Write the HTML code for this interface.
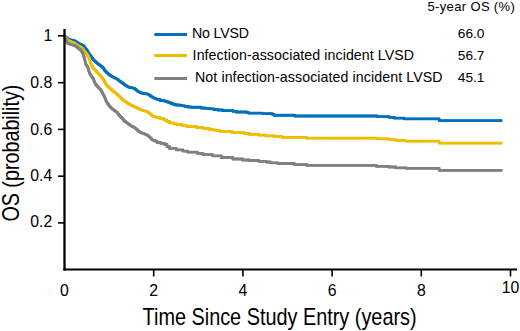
<!DOCTYPE html>
<html><head><meta charset="utf-8"><style>
html,body{margin:0;padding:0;background:#fff;}
svg{display:block;}
text{font-family:"Liberation Sans",sans-serif;fill:#000;}
.t{font-size:15.8px;}
.l{font-size:14.2px;}
.h{font-size:13px;}
.n{font-size:13.7px;}
.a{font-size:23.6px;}
.ay{font-size:23.6px;}
</style></head><body>
<svg width="520" height="331" viewBox="0 0 520 331">
<g><path d="M63.35,34.65 L65.65,34.65 L65.72,34.72 L65.83,34.81 L66.23,35.23 L67.13,36.15 L67.85,36.81 L68.31,37.16 L68.88,37.51 L69.53,37.89 L70.20,38.22 L70.93,38.51 L71.71,38.74 L72.50,38.91 L73.29,39.04 L74.07,39.10 L74.80,39.35 L75.55,39.70 L76.31,40.11 L76.97,40.44 L77.58,40.80 L78.34,41.29 L79.05,41.74 L79.63,42.08 L80.26,42.43 L80.93,42.81 L81.58,43.10 L82.22,43.41 L82.77,43.63 L83.23,43.79 L83.73,44.01 L84.33,44.36 L84.88,44.81 L85.34,45.34 L85.75,45.91 L86.14,46.47 L86.54,47.03 L86.93,47.55 L87.31,48.02 L87.68,48.49 L88.07,49.02 L88.45,49.57 L88.84,50.18 L89.20,50.86 L89.55,51.47 L89.88,51.97 L90.25,52.55 L90.66,53.13 L91.10,53.70 L91.56,54.29 L92.09,54.94 L92.56,55.59 L92.99,56.29 L93.38,56.97 L93.76,57.56 L94.35,58.24 L95.22,59.17 L95.81,59.81 L96.14,60.15 L96.51,60.43 L97.02,60.80 L97.57,61.24 L98.09,61.68 L98.63,62.15 L99.20,62.64 L99.74,63.08 L100.24,63.45 L100.77,63.84 L101.41,64.33 L102.02,64.79 L102.55,65.13 L103.02,65.43 L103.45,65.73 L103.88,66.09 L104.40,66.63 L104.92,67.37 L105.28,68.14 L105.65,68.86 L106.22,69.51 L106.87,70.11 L107.29,70.59 L107.51,70.94 L107.76,71.26 L108.35,71.79 L109.23,72.53 L109.80,73.00 L110.20,73.33 L110.77,73.76 L111.42,74.23 L111.96,74.58 L112.53,74.90 L113.17,75.27 L113.81,75.64 L114.43,75.97 L115.07,76.31 L115.72,76.65 L116.34,76.97 L116.96,77.28 L117.58,77.60 L118.22,77.95 L118.85,78.36 L119.46,78.82 L120.02,79.27 L120.60,79.69 L121.19,80.13 L121.79,80.56 L122.39,80.99 L122.99,81.44 L123.59,81.87 L124.19,82.29 L124.79,82.74 L125.39,83.17 L125.99,83.59 L126.59,84.01 L127.19,84.39 L127.79,84.77 L128.42,85.18 L129.07,85.56 L129.70,85.85 L130.31,86.09 L130.98,86.27 L131.73,86.39 L132.57,86.54 L133.47,86.73 L134.41,86.98 L135.34,87.28 L136.15,87.70 L136.78,88.13 L137.29,88.57 L137.82,89.09 L138.34,89.59 L138.77,89.94 L139.26,90.22 L139.93,90.54 L140.75,90.94 L141.55,91.33 L142.31,91.66 L143.09,91.96 L143.95,92.23 L144.78,92.38 L145.57,92.46 L146.34,92.51 L147.10,92.58 L147.88,92.72 L148.67,92.95 L149.40,93.25 L150.03,93.59 L150.71,94.03 L151.35,94.47 L151.91,94.86 L152.53,95.26 L153.18,95.64 L153.82,96.04 L154.50,96.41 L155.20,96.74 L155.89,97.03 L156.60,97.33 L157.29,97.65 L157.90,97.97 L158.44,98.30 L161.15,98.30 L161.15,99.45 L165.45,99.45 L165.45,99.95 L167.65,99.95 L167.65,100.65 L169.65,100.65 L169.65,101.35 L171.75,101.35 L171.75,102.15 L174.15,102.15 L174.15,103.15 L176.65,103.15 L176.65,103.85 L180.65,103.85 L180.65,104.25 L183.25,104.25 L183.25,104.65 L186.15,104.65 L186.15,105.25 L189.05,105.25 L189.05,105.85 L191.95,105.85 L191.95,106.10 L202.15,106.10 L202.15,106.85 L206.15,106.85 L206.15,107.25 L209.15,107.25 L209.15,107.55 L211.15,107.55 L211.15,107.65 L214.95,107.65 L214.95,108.35 L218.85,108.35 L218.85,108.85 L223.65,108.85 L223.65,109.55 L234.15,109.55 L234.15,110.25 L237.15,110.25 L237.15,110.85 L247.65,110.85 L247.65,111.35 L249.65,111.35 L249.65,111.90 L263.85,111.90 L263.85,112.55 L273.45,112.55 L273.45,113.15 L275.35,113.15 L275.35,114.10 L295.65,114.10 L295.65,114.85 L378.15,114.85 L378.15,115.50 L390.15,115.50 L390.15,116.15 L395.45,116.15 L395.45,116.90 L405.15,116.90 L405.15,117.65 L440.25,117.65 L440.25,119.40 L502.30,119.40 L502.30,121.70 L500.00,121.70 L437.95,121.70 L437.95,119.95 L402.85,119.95 L402.85,119.20 L393.15,119.20 L393.15,118.45 L387.85,118.45 L387.85,117.80 L375.85,117.80 L375.85,117.15 L293.35,117.15 L293.35,116.40 L273.05,116.40 L273.05,115.45 L271.15,115.45 L271.15,114.85 L261.55,114.85 L261.55,114.20 L247.35,114.20 L247.35,113.65 L245.35,113.65 L245.35,113.15 L234.85,113.15 L234.85,112.55 L231.85,112.55 L231.85,111.85 L221.35,111.85 L221.35,111.15 L216.55,111.15 L216.55,110.65 L212.65,110.65 L212.65,109.95 L208.85,109.95 L208.85,109.85 L206.85,109.85 L206.85,109.55 L203.85,109.55 L203.85,109.15 L199.85,109.15 L199.85,108.40 L189.65,108.40 L189.65,108.15 L186.75,108.15 L186.75,107.55 L183.85,107.55 L183.85,106.95 L180.95,106.95 L180.95,106.55 L178.35,106.55 L178.35,106.15 L174.35,106.15 L174.35,105.45 L171.85,105.45 L171.85,104.45 L169.45,104.45 L169.45,103.65 L167.35,103.65 L167.35,102.95 L165.35,102.95 L165.35,102.25 L163.15,102.25 L163.15,101.75 L158.85,101.75 L158.85,100.60 L156.14,100.60 L155.60,100.27 L154.99,99.95 L154.30,99.63 L153.59,99.33 L152.90,99.04 L152.20,98.71 L151.52,98.34 L150.88,97.94 L150.23,97.56 L149.61,97.16 L149.05,96.77 L148.41,96.33 L147.73,95.89 L147.10,95.55 L146.37,95.25 L145.58,95.02 L144.80,94.88 L144.04,94.81 L143.27,94.76 L142.48,94.68 L141.65,94.53 L140.79,94.26 L140.01,93.96 L139.25,93.63 L138.45,93.24 L137.63,92.84 L136.96,92.52 L136.47,92.24 L136.04,91.89 L135.52,91.39 L134.99,90.87 L134.48,90.43 L133.85,90.00 L133.04,89.58 L132.11,89.28 L131.17,89.03 L130.27,88.84 L129.43,88.69 L128.68,88.57 L128.01,88.39 L127.40,88.15 L126.77,87.86 L126.12,87.48 L125.49,87.07 L124.89,86.69 L124.29,86.31 L123.69,85.89 L123.09,85.47 L122.49,85.04 L121.89,84.59 L121.29,84.17 L120.69,83.74 L120.09,83.29 L119.49,82.86 L118.89,82.43 L118.30,81.99 L117.72,81.57 L117.16,81.12 L116.55,80.66 L115.92,80.25 L115.28,79.90 L114.66,79.58 L114.04,79.27 L113.42,78.95 L112.77,78.61 L112.13,78.27 L111.51,77.94 L110.87,77.57 L110.23,77.20 L109.66,76.88 L109.12,76.53 L108.47,76.06 L107.90,75.63 L107.50,75.30 L106.93,74.83 L106.05,74.09 L105.46,73.56 L105.21,73.24 L104.99,72.89 L104.57,72.41 L103.92,71.81 L103.35,71.16 L102.98,70.44 L102.62,69.67 L102.10,68.93 L101.58,68.39 L101.15,68.03 L100.72,67.73 L100.25,67.43 L99.72,67.09 L99.11,66.63 L98.47,66.14 L97.94,65.75 L97.44,65.38 L96.90,64.94 L96.33,64.45 L95.79,63.98 L95.27,63.54 L94.72,63.10 L94.21,62.73 L93.84,62.45 L93.51,62.11 L92.92,61.47 L92.05,60.54 L91.46,59.86 L91.08,59.27 L90.69,58.59 L90.26,57.89 L89.79,57.24 L89.26,56.59 L88.80,56.00 L88.36,55.43 L87.95,54.85 L87.58,54.27 L87.25,53.77 L86.90,53.16 L86.54,52.48 L86.15,51.87 L85.77,51.32 L85.38,50.79 L85.01,50.32 L84.63,49.85 L84.24,49.33 L83.84,48.77 L83.45,48.21 L83.04,47.64 L82.58,47.11 L82.03,46.66 L81.43,46.31 L80.93,46.09 L80.47,45.93 L79.92,45.71 L79.28,45.40 L78.63,45.11 L77.96,44.73 L77.33,44.38 L76.75,44.04 L76.04,43.59 L75.28,43.10 L74.67,42.74 L74.01,42.41 L73.25,42.00 L72.50,41.65 L71.77,41.40 L70.99,41.34 L70.20,41.21 L69.41,41.04 L68.63,40.81 L67.90,40.52 L67.23,40.19 L66.58,39.81 L66.01,39.46 L65.55,39.11 L64.83,38.45 L63.93,37.53 L63.53,37.11 L63.42,37.02 L63.35,36.95Z" fill="#0070be"/><path d="M64.50,35.80 L64.57,35.87 L64.68,35.96 L65.08,36.38 L65.98,37.30 L66.70,37.96 L67.16,38.31 L67.73,38.66 L68.38,39.04 L69.05,39.37 L69.78,39.66 L70.56,39.89 L71.35,40.06 L72.14,40.19 L72.92,40.25 L73.65,40.50 L74.40,40.85 L75.16,41.26 L75.82,41.59 L76.43,41.95 L77.19,42.44 L77.90,42.89 L78.48,43.23 L79.11,43.58 L79.78,43.96 L80.43,44.25 L81.07,44.56 L81.62,44.78 L82.08,44.94 L82.58,45.16 L83.18,45.51 L83.73,45.96 L84.19,46.49 L84.60,47.06 L84.99,47.62 L85.39,48.18 L85.78,48.70 L86.16,49.17 L86.53,49.64 L86.92,50.17 L87.30,50.72 L87.69,51.33 L88.05,52.01 L88.40,52.62 L88.73,53.12 L89.10,53.70 L89.51,54.28 L89.95,54.85 L90.41,55.44 L90.94,56.09 L91.41,56.74 L91.84,57.44 L92.23,58.12 L92.61,58.71 L93.20,59.39 L94.07,60.32 L94.66,60.96 L94.99,61.30 L95.36,61.58 L95.87,61.95 L96.42,62.39 L96.94,62.83 L97.48,63.30 L98.05,63.79 L98.59,64.23 L99.09,64.60 L99.62,64.99 L100.26,65.48 L100.87,65.94 L101.40,66.28 L101.87,66.58 L102.30,66.88 L102.73,67.24 L103.25,67.78 L103.77,68.52 L104.13,69.29 L104.50,70.01 L105.07,70.66 L105.72,71.26 L106.14,71.74 L106.36,72.09 L106.61,72.41 L107.20,72.94 L108.08,73.68 L108.65,74.15 L109.05,74.48 L109.62,74.91 L110.27,75.38 L110.81,75.73 L111.38,76.05 L112.02,76.42 L112.66,76.79 L113.28,77.12 L113.92,77.46 L114.57,77.80 L115.19,78.12 L115.81,78.43 L116.43,78.75 L117.07,79.10 L117.70,79.51 L118.31,79.97 L118.87,80.42 L119.45,80.84 L120.04,81.28 L120.64,81.71 L121.24,82.14 L121.84,82.59 L122.44,83.02 L123.04,83.44 L123.64,83.89 L124.24,84.32 L124.84,84.74 L125.44,85.16 L126.04,85.54 L126.64,85.92 L127.27,86.33 L127.92,86.71 L128.55,87.00 L129.16,87.24 L129.83,87.42 L130.58,87.54 L131.42,87.69 L132.32,87.88 L133.26,88.13 L134.19,88.43 L135.00,88.85 L135.63,89.28 L136.14,89.72 L136.67,90.24 L137.19,90.74 L137.62,91.09 L138.11,91.37 L138.78,91.69 L139.60,92.09 L140.40,92.48 L141.16,92.81 L141.94,93.11 L142.80,93.38 L143.63,93.53 L144.42,93.61 L145.19,93.66 L145.95,93.73 L146.73,93.87 L147.52,94.10 L148.25,94.40 L148.88,94.74 L149.56,95.18 L150.20,95.62 L150.76,96.01 L151.38,96.41 L152.03,96.79 L152.67,97.19 L153.35,97.56 L154.05,97.89 L154.74,98.18 L155.45,98.48 L156.14,98.80 L156.75,99.12 L157.29,99.45 L160.00,99.45 L160.00,100.60 L164.30,100.60 L164.30,101.10 L166.50,101.10 L166.50,101.80 L168.50,101.80 L168.50,102.50 L170.60,102.50 L170.60,103.30 L173.00,103.30 L173.00,104.30 L175.50,104.30 L175.50,105.00 L179.50,105.00 L179.50,105.40 L182.10,105.40 L182.10,105.80 L185.00,105.80 L185.00,106.40 L187.90,106.40 L187.90,107.00 L190.80,107.00 L190.80,107.25 L201.00,107.25 L201.00,108.00 L205.00,108.00 L205.00,108.40 L208.00,108.40 L208.00,108.70 L210.00,108.70 L210.00,108.80 L213.80,108.80 L213.80,109.50 L217.70,109.50 L217.70,110.00 L222.50,110.00 L222.50,110.70 L233.00,110.70 L233.00,111.40 L236.00,111.40 L236.00,112.00 L246.50,112.00 L246.50,112.50 L248.50,112.50 L248.50,113.05 L262.70,113.05 L262.70,113.70 L272.30,113.70 L272.30,114.30 L274.20,114.30 L274.20,115.25 L294.50,115.25 L294.50,116.00 L377.00,116.00 L377.00,116.65 L389.00,116.65 L389.00,117.30 L394.30,117.30 L394.30,118.05 L404.00,118.05 L404.00,118.80 L439.10,118.80 L439.10,120.55 L502.30,120.55" fill="none" stroke="#0070be" stroke-width="2.8" stroke-linejoin="round" stroke-linecap="butt"/></g>
<g><path d="M63.35,34.65 L65.65,34.65 L65.70,34.70 L65.72,34.73 L65.85,34.93 L66.44,36.07 L67.34,37.73 L67.70,38.25 L67.98,38.47 L68.47,38.81 L69.09,39.23 L69.74,39.61 L70.46,39.95 L71.21,40.23 L71.94,40.48 L72.65,40.71 L73.38,40.96 L74.12,41.19 L74.78,41.53 L75.40,41.93 L76.09,42.40 L76.68,42.79 L77.22,43.17 L77.94,43.68 L78.64,44.16 L79.21,44.52 L79.85,44.89 L80.55,45.34 L81.16,45.70 L81.72,46.01 L82.25,46.32 L82.71,46.63 L83.14,46.99 L83.63,47.50 L84.15,48.13 L84.54,48.68 L84.90,49.24 L85.33,49.91 L85.70,50.42 L86.06,50.82 L86.49,51.25 L86.87,51.65 L87.21,52.05 L87.67,52.67 L88.14,53.32 L88.44,53.73 L88.76,54.18 L89.23,54.83 L89.58,55.32 L89.72,55.51 L89.77,55.59 L89.92,56.00 L90.81,58.73 L91.48,60.88 L91.56,61.18 L91.63,61.33 L91.84,61.80 L92.28,62.81 L92.67,63.71 L92.87,64.16 L93.10,64.58 L93.46,65.20 L93.86,65.91 L94.21,66.52 L94.68,67.10 L95.25,67.71 L95.74,68.25 L96.17,68.73 L96.69,69.21 L97.20,69.71 L97.62,70.21 L98.09,70.76 L98.66,71.34 L99.13,71.83 L99.49,72.25 L99.99,72.80 L100.61,73.46 L101.09,73.99 L101.46,74.42 L101.95,74.91 L102.53,75.50 L102.98,76.06 L103.39,76.65 L103.88,77.27 L104.30,77.83 L104.61,78.35 L104.96,79.02 L105.35,79.71 L105.67,80.23 L106.02,80.84 L106.49,81.75 L106.89,82.49 L107.21,82.99 L107.57,83.49 L107.96,83.96 L108.38,84.42 L108.98,85.06 L109.61,85.71 L110.04,86.13 L110.50,86.54 L111.13,87.13 L111.66,87.62 L112.09,87.99 L112.67,88.50 L113.30,89.07 L113.79,89.48 L114.31,89.87 L114.93,90.33 L115.45,90.73 L115.95,91.13 L116.64,91.65 L117.25,92.13 L117.69,92.51 L118.27,93.06 L118.98,93.73 L119.48,94.24 L119.85,94.65 L120.24,95.01 L120.71,95.34 L121.29,95.77 L121.95,96.39 L122.51,97.00 L122.92,97.48 L123.33,97.91 L123.88,98.36 L124.54,98.85 L125.10,99.34 L125.55,99.74 L126.02,100.04 L126.64,100.37 L127.38,100.81 L128.03,101.26 L128.59,101.66 L129.19,102.13 L129.84,102.59 L130.47,102.96 L131.09,103.27 L131.73,103.59 L132.38,103.92 L133.05,104.25 L133.72,104.58 L134.39,104.92 L135.07,105.25 L135.76,105.57 L136.45,105.86 L137.11,106.16 L137.77,106.48 L138.45,106.84 L139.11,107.19 L139.75,107.50 L140.44,107.85 L141.18,108.22 L141.90,108.53 L142.58,108.79 L143.33,109.06 L144.11,109.31 L144.87,109.51 L145.61,109.67 L146.32,109.84 L147.05,110.07 L147.81,110.37 L148.51,110.67 L149.10,110.95 L149.74,111.37 L150.42,111.89 L150.94,112.33 L151.42,112.76 L152.05,113.31 L152.64,113.82 L153.16,114.23 L153.81,114.65 L154.56,115.06 L155.24,115.35 L155.89,115.54 L156.58,115.70 L157.30,115.87 L158.06,116.09 L158.86,116.34 L161.15,116.34 L161.15,117.50 L164.95,117.50 L164.95,118.65 L167.85,118.65 L167.85,120.15 L170.75,120.15 L170.75,121.75 L174.65,121.75 L174.65,122.65 L178.45,122.65 L178.45,123.45 L183.25,123.45 L183.25,124.25 L188.05,124.25 L188.05,125.35 L197.65,125.35 L197.65,126.35 L204.45,126.35 L204.45,127.35 L210.15,127.35 L210.15,128.10 L212.95,128.10 L212.95,128.75 L216.85,128.75 L216.85,129.35 L220.65,129.35 L220.65,130.15 L233.15,130.15 L233.15,131.45 L245.65,131.45 L245.65,132.35 L250.45,132.35 L250.45,133.25 L259.95,133.25 L259.95,134.05 L266.75,134.05 L266.75,134.70 L275.35,134.70 L275.35,135.25 L283.05,135.25 L283.05,136.15 L307.45,136.15 L307.45,137.05 L377.45,137.05 L377.45,137.75 L389.95,137.75 L389.95,138.45 L396.75,138.45 L396.75,139.15 L406.35,139.15 L406.35,139.95 L440.25,139.95 L440.25,142.05 L502.30,142.05 L502.30,144.35 L500.00,144.35 L437.95,144.35 L437.95,142.25 L404.05,142.25 L404.05,141.45 L394.45,141.45 L394.45,140.75 L387.65,140.75 L387.65,140.05 L375.15,140.05 L375.15,139.35 L305.15,139.35 L305.15,138.45 L280.75,138.45 L280.75,137.55 L273.05,137.55 L273.05,137.00 L264.45,137.00 L264.45,136.35 L257.65,136.35 L257.65,135.55 L248.15,135.55 L248.15,134.65 L243.35,134.65 L243.35,133.75 L230.85,133.75 L230.85,132.45 L218.35,132.45 L218.35,131.65 L214.55,131.65 L214.55,131.05 L210.65,131.05 L210.65,130.40 L207.85,130.40 L207.85,129.65 L202.15,129.65 L202.15,128.65 L195.35,128.65 L195.35,127.65 L185.75,127.65 L185.75,126.55 L180.95,126.55 L180.95,125.75 L176.15,125.75 L176.15,124.95 L172.35,124.95 L172.35,124.05 L168.45,124.05 L168.45,122.45 L165.55,122.45 L165.55,120.95 L162.65,120.95 L162.65,119.80 L158.85,119.80 L158.85,118.64 L156.56,118.64 L155.76,118.39 L155.00,118.17 L154.28,118.00 L153.59,117.84 L152.94,117.65 L152.26,117.36 L151.51,116.95 L150.86,116.53 L150.34,116.12 L149.75,115.61 L149.12,115.06 L148.64,114.63 L148.12,114.19 L147.44,113.67 L146.80,113.25 L146.21,112.97 L145.51,112.67 L144.75,112.37 L144.02,112.14 L143.31,111.97 L142.57,111.81 L141.81,111.61 L141.03,111.36 L140.28,111.09 L139.60,110.83 L138.88,110.52 L138.14,110.15 L137.45,109.80 L136.81,109.49 L136.15,109.14 L135.47,108.78 L134.81,108.46 L134.15,108.16 L133.46,107.87 L132.77,107.55 L132.09,107.22 L131.42,106.88 L130.75,106.55 L130.08,106.22 L129.43,105.89 L128.79,105.57 L128.17,105.26 L127.54,104.89 L126.89,104.43 L126.29,103.96 L125.73,103.56 L125.08,103.11 L124.34,102.67 L123.72,102.34 L123.25,102.04 L122.80,101.64 L122.24,101.15 L121.58,100.66 L121.03,100.21 L120.62,99.78 L120.21,99.30 L119.65,98.69 L118.99,98.07 L118.41,97.64 L117.94,97.31 L117.55,96.95 L117.18,96.54 L116.68,96.03 L115.97,95.36 L115.39,94.81 L114.95,94.43 L114.34,93.95 L113.65,93.43 L113.15,93.03 L112.63,92.63 L112.01,92.17 L111.49,91.78 L111.00,91.37 L110.37,90.80 L109.79,90.29 L109.36,89.92 L108.83,89.43 L108.20,88.84 L107.74,88.43 L107.31,88.01 L106.68,87.36 L106.08,86.72 L105.66,86.26 L105.27,85.79 L104.91,85.29 L104.59,84.79 L104.19,84.05 L103.72,83.14 L103.37,82.53 L103.05,82.01 L102.66,81.32 L102.31,80.65 L102.00,80.13 L101.58,79.57 L101.09,78.95 L100.68,78.36 L100.23,77.80 L99.65,77.21 L99.16,76.72 L98.79,76.29 L98.31,75.76 L97.69,75.10 L97.19,74.55 L96.83,74.13 L96.36,73.64 L95.79,73.06 L95.32,72.51 L94.90,72.01 L94.39,71.51 L93.87,71.03 L93.44,70.55 L92.95,70.01 L92.38,69.40 L91.91,68.82 L91.56,68.21 L91.16,67.50 L90.80,66.88 L90.57,66.46 L90.37,66.01 L89.98,65.11 L89.54,64.10 L89.33,63.63 L89.26,63.48 L89.18,63.18 L88.51,61.03 L87.62,58.30 L87.47,57.89 L87.42,57.81 L87.28,57.62 L86.93,57.13 L86.46,56.48 L86.14,56.03 L85.84,55.62 L85.37,54.97 L84.91,54.35 L84.57,53.95 L84.19,53.55 L83.76,53.12 L83.40,52.72 L83.03,52.21 L82.60,51.54 L82.24,50.98 L81.85,50.43 L81.33,49.80 L80.84,49.29 L80.41,48.93 L79.95,48.62 L79.42,48.31 L78.86,48.00 L78.25,47.64 L77.55,47.19 L76.91,46.82 L76.34,46.46 L75.64,45.98 L74.92,45.47 L74.38,45.09 L73.79,44.70 L73.10,44.23 L72.48,43.83 L71.82,43.49 L71.08,43.26 L70.35,43.01 L69.64,42.78 L68.91,42.53 L68.16,42.25 L67.44,41.91 L66.79,41.53 L66.17,41.11 L65.68,40.77 L65.40,40.55 L65.04,40.03 L64.14,38.37 L63.55,37.23 L63.42,37.03 L63.40,37.00 L63.35,36.95Z" fill="#f0bc00"/><path d="M64.50,35.80 L64.55,35.85 L64.57,35.88 L64.70,36.08 L65.29,37.22 L66.19,38.88 L66.55,39.40 L66.83,39.62 L67.32,39.96 L67.94,40.38 L68.59,40.76 L69.31,41.10 L70.06,41.38 L70.79,41.63 L71.50,41.86 L72.23,42.11 L72.97,42.34 L73.63,42.68 L74.25,43.08 L74.94,43.55 L75.53,43.94 L76.07,44.32 L76.79,44.83 L77.49,45.31 L78.06,45.67 L78.70,46.04 L79.40,46.49 L80.01,46.85 L80.57,47.16 L81.10,47.47 L81.56,47.78 L81.99,48.14 L82.48,48.65 L83.00,49.28 L83.39,49.83 L83.75,50.39 L84.18,51.06 L84.55,51.57 L84.91,51.97 L85.34,52.40 L85.72,52.80 L86.06,53.20 L86.52,53.82 L86.99,54.47 L87.29,54.88 L87.61,55.33 L88.08,55.98 L88.43,56.47 L88.57,56.66 L88.62,56.74 L88.77,57.15 L89.66,59.88 L90.33,62.03 L90.41,62.33 L90.48,62.48 L90.69,62.95 L91.13,63.96 L91.52,64.86 L91.72,65.31 L91.95,65.73 L92.31,66.35 L92.71,67.06 L93.06,67.67 L93.53,68.25 L94.10,68.86 L94.59,69.40 L95.02,69.88 L95.54,70.36 L96.05,70.86 L96.47,71.36 L96.94,71.91 L97.51,72.49 L97.98,72.98 L98.34,73.40 L98.84,73.95 L99.46,74.61 L99.94,75.14 L100.31,75.57 L100.80,76.06 L101.38,76.65 L101.83,77.21 L102.24,77.80 L102.73,78.42 L103.15,78.98 L103.46,79.50 L103.81,80.17 L104.20,80.86 L104.52,81.38 L104.87,81.99 L105.34,82.90 L105.74,83.64 L106.06,84.14 L106.42,84.64 L106.81,85.11 L107.23,85.57 L107.83,86.21 L108.46,86.86 L108.89,87.28 L109.35,87.69 L109.98,88.28 L110.51,88.77 L110.94,89.14 L111.52,89.65 L112.15,90.22 L112.64,90.63 L113.16,91.02 L113.78,91.48 L114.30,91.88 L114.80,92.28 L115.49,92.80 L116.10,93.28 L116.54,93.66 L117.12,94.21 L117.83,94.88 L118.33,95.39 L118.70,95.80 L119.09,96.16 L119.56,96.49 L120.14,96.92 L120.80,97.54 L121.36,98.15 L121.77,98.63 L122.18,99.06 L122.73,99.51 L123.39,100.00 L123.95,100.49 L124.40,100.89 L124.87,101.19 L125.49,101.52 L126.23,101.96 L126.88,102.41 L127.44,102.81 L128.04,103.28 L128.69,103.74 L129.32,104.11 L129.94,104.42 L130.58,104.74 L131.23,105.07 L131.90,105.40 L132.57,105.73 L133.24,106.07 L133.92,106.40 L134.61,106.72 L135.30,107.01 L135.96,107.31 L136.62,107.63 L137.30,107.99 L137.96,108.34 L138.60,108.65 L139.29,109.00 L140.03,109.37 L140.75,109.68 L141.43,109.94 L142.18,110.21 L142.96,110.46 L143.72,110.66 L144.46,110.82 L145.17,110.99 L145.90,111.22 L146.66,111.52 L147.36,111.82 L147.95,112.10 L148.59,112.52 L149.27,113.04 L149.79,113.48 L150.27,113.91 L150.90,114.46 L151.49,114.97 L152.01,115.38 L152.66,115.80 L153.41,116.21 L154.09,116.50 L154.74,116.69 L155.43,116.85 L156.15,117.02 L156.91,117.24 L157.71,117.49 L160.00,117.49 L160.00,118.65 L163.80,118.65 L163.80,119.80 L166.70,119.80 L166.70,121.30 L169.60,121.30 L169.60,122.90 L173.50,122.90 L173.50,123.80 L177.30,123.80 L177.30,124.60 L182.10,124.60 L182.10,125.40 L186.90,125.40 L186.90,126.50 L196.50,126.50 L196.50,127.50 L203.30,127.50 L203.30,128.50 L209.00,128.50 L209.00,129.25 L211.80,129.25 L211.80,129.90 L215.70,129.90 L215.70,130.50 L219.50,130.50 L219.50,131.30 L232.00,131.30 L232.00,132.60 L244.50,132.60 L244.50,133.50 L249.30,133.50 L249.30,134.40 L258.80,134.40 L258.80,135.20 L265.60,135.20 L265.60,135.85 L274.20,135.85 L274.20,136.40 L281.90,136.40 L281.90,137.30 L306.30,137.30 L306.30,138.20 L376.30,138.20 L376.30,138.90 L388.80,138.90 L388.80,139.60 L395.60,139.60 L395.60,140.30 L405.20,140.30 L405.20,141.10 L439.10,141.10 L439.10,143.20 L502.30,143.20" fill="none" stroke="#f0bc00" stroke-width="2.8" stroke-linejoin="round" stroke-linecap="butt"/></g>
<g><path d="M63.35,34.65 L65.65,34.65 L65.70,34.70 L65.70,34.70 L65.72,34.73 L65.87,35.10 L66.80,37.72 L67.52,39.76 L67.63,40.14 L67.71,40.47 L67.88,40.89 L68.16,41.29 L68.58,41.67 L69.18,42.12 L69.91,42.59 L70.66,42.88 L71.38,43.07 L72.12,43.29 L72.89,43.53 L73.69,43.75 L74.45,43.93 L75.18,44.16 L75.93,44.45 L76.60,44.84 L77.20,45.28 L77.91,45.80 L78.60,46.32 L79.15,46.74 L79.76,47.19 L80.38,47.69 L80.85,48.11 L81.32,48.49 L81.95,49.10 L82.42,49.64 L82.63,49.98 L82.87,50.40 L83.45,51.26 L84.09,52.25 L84.31,52.86 L84.34,53.31 L84.42,53.87 L84.72,54.78 L85.16,55.75 L85.39,56.18 L85.47,56.31 L85.50,56.38 L85.66,57.15 L86.47,61.03 L86.79,62.55 L86.82,62.69 L86.83,62.74 L86.88,62.85 L87.06,63.17 L87.57,63.96 L88.14,64.80 L88.44,65.19 L88.63,65.48 L88.93,66.19 L89.29,67.38 L89.49,68.15 L89.60,68.51 L89.79,69.09 L90.17,70.23 L90.47,71.15 L90.64,71.60 L90.91,72.17 L91.36,73.03 L91.73,73.73 L92.05,74.23 L92.43,74.80 L92.82,75.35 L93.16,75.82 L93.60,76.43 L94.12,77.14 L94.49,77.66 L94.75,78.18 L95.08,79.18 L95.44,80.34 L95.67,80.96 L95.90,81.33 L96.23,81.82 L96.61,82.49 L96.96,83.20 L97.41,83.87 L97.98,84.48 L98.45,84.96 L98.82,85.38 L99.30,85.84 L99.89,86.41 L100.39,87.02 L100.77,87.57 L101.20,88.03 L101.73,88.52 L102.24,89.18 L102.63,89.89 L102.93,90.43 L103.24,90.97 L103.63,91.73 L104.00,92.42 L104.32,92.96 L104.72,93.63 L105.11,94.42 L105.36,95.03 L105.55,95.55 L105.82,96.14 L106.19,96.81 L106.54,97.54 L106.80,98.37 L107.06,99.24 L107.42,100.07 L107.79,100.75 L108.03,101.25 L108.28,101.70 L108.78,102.35 L109.45,103.15 L109.89,103.71 L110.20,104.13 L110.62,104.66 L111.10,105.29 L111.45,105.83 L111.82,106.29 L112.42,106.75 L113.06,107.24 L113.54,107.73 L114.01,108.19 L114.68,108.61 L115.39,109.03 L115.92,109.50 L116.48,110.01 L117.21,110.49 L117.84,110.84 L118.19,111.10 L118.41,111.41 L118.81,111.98 L119.44,112.84 L119.93,113.54 L120.28,114.03 L120.75,114.54 L121.33,115.10 L121.82,115.57 L122.26,115.99 L122.79,116.45 L123.30,116.95 L123.71,117.46 L124.19,118.06 L124.76,118.75 L125.23,119.33 L125.64,119.77 L126.15,120.17 L126.69,120.57 L127.23,120.99 L127.85,121.44 L128.47,121.87 L129.00,122.28 L129.58,122.72 L130.19,123.16 L130.72,123.55 L131.29,123.98 L131.92,124.42 L132.45,124.75 L133.02,125.04 L133.80,125.39 L134.54,125.75 L135.12,126.09 L135.77,126.54 L136.48,127.05 L136.98,127.44 L137.40,127.81 L137.97,128.30 L138.55,128.84 L139.02,129.29 L139.56,129.76 L140.20,130.27 L140.80,130.69 L141.40,131.04 L142.07,131.35 L142.76,131.64 L143.46,131.89 L144.18,132.14 L144.90,132.39 L145.61,132.65 L146.31,132.92 L146.99,133.21 L147.61,133.50 L148.24,133.86 L148.92,134.32 L149.50,134.74 L149.96,135.11 L150.54,135.64 L151.16,136.25 L151.57,136.71 L151.99,137.15 L152.60,137.75 L153.19,138.34 L153.62,138.73 L154.09,138.99 L154.75,139.22 L156.15,139.22 L156.15,139.95 L158.15,139.95 L158.15,141.35 L161.95,141.35 L161.95,142.25 L165.75,142.25 L165.75,143.35 L168.15,143.35 L168.15,145.35 L170.55,145.35 L170.55,147.25 L177.35,147.25 L177.35,148.75 L184.05,148.75 L184.05,149.95 L188.85,149.95 L188.85,151.05 L198.45,151.05 L198.45,152.25 L204.15,152.25 L204.15,153.45 L213.75,153.45 L213.75,154.75 L222.45,154.75 L222.45,156.35 L233.95,156.35 L233.95,157.85 L243.55,157.85 L243.55,158.85 L250.35,158.85 L250.35,159.35 L259.85,159.35 L259.85,160.15 L267.45,160.15 L267.45,160.85 L271.35,160.85 L271.35,161.65 L279.05,161.65 L279.05,162.35 L295.35,162.35 L295.35,163.40 L307.85,163.40 L307.85,164.20 L377.45,164.20 L377.45,165.15 L389.95,165.15 L389.95,165.85 L396.75,165.85 L396.75,166.65 L407.35,166.65 L407.35,167.20 L440.25,167.20 L440.25,169.20 L502.30,169.20 L502.30,171.50 L500.00,171.50 L437.95,171.50 L437.95,169.50 L405.05,169.50 L405.05,168.95 L394.45,168.95 L394.45,168.15 L387.65,168.15 L387.65,167.45 L375.15,167.45 L375.15,166.50 L305.55,166.50 L305.55,165.70 L293.05,165.70 L293.05,164.65 L276.75,164.65 L276.75,163.95 L269.05,163.95 L269.05,163.15 L265.15,163.15 L265.15,162.45 L257.55,162.45 L257.55,161.65 L248.05,161.65 L248.05,161.15 L241.25,161.15 L241.25,160.15 L231.65,160.15 L231.65,158.65 L220.15,158.65 L220.15,157.05 L211.45,157.05 L211.45,155.75 L201.85,155.75 L201.85,154.55 L196.15,154.55 L196.15,153.35 L186.55,153.35 L186.55,152.25 L181.75,152.25 L181.75,151.05 L175.05,151.05 L175.05,149.55 L168.25,149.55 L168.25,147.65 L165.85,147.65 L165.85,145.65 L163.45,145.65 L163.45,144.55 L159.65,144.55 L159.65,143.65 L155.85,143.65 L155.85,142.25 L153.85,142.25 L153.85,141.52 L152.45,141.52 L151.79,141.29 L151.32,141.03 L150.89,140.64 L150.30,140.05 L149.69,139.45 L149.27,139.01 L148.86,138.55 L148.24,137.94 L147.66,137.41 L147.20,137.04 L146.62,136.62 L145.94,136.16 L145.31,135.80 L144.69,135.51 L144.01,135.22 L143.31,134.95 L142.60,134.69 L141.88,134.44 L141.16,134.19 L140.46,133.94 L139.77,133.65 L139.10,133.34 L138.50,132.99 L137.90,132.57 L137.26,132.06 L136.72,131.59 L136.25,131.14 L135.67,130.60 L135.10,130.11 L134.68,129.74 L134.18,129.35 L133.47,128.84 L132.82,128.39 L132.24,128.05 L131.50,127.69 L130.72,127.34 L130.15,127.05 L129.62,126.72 L128.99,126.28 L128.42,125.85 L127.89,125.46 L127.28,125.02 L126.70,124.58 L126.17,124.17 L125.55,123.74 L124.93,123.29 L124.39,122.87 L123.85,122.47 L123.34,122.07 L122.93,121.63 L122.46,121.05 L121.89,120.36 L121.41,119.76 L121.00,119.25 L120.49,118.75 L119.96,118.29 L119.52,117.87 L119.03,117.40 L118.45,116.84 L117.98,116.33 L117.63,115.84 L117.14,115.14 L116.51,114.28 L116.11,113.71 L115.89,113.40 L115.54,113.14 L114.91,112.79 L114.18,112.31 L113.62,111.80 L113.09,111.33 L112.38,110.91 L111.71,110.49 L111.24,110.03 L110.76,109.54 L110.12,109.05 L109.52,108.59 L109.15,108.13 L108.80,107.59 L108.32,106.96 L107.90,106.43 L107.59,106.01 L107.15,105.45 L106.48,104.65 L105.98,104.00 L105.73,103.55 L105.49,103.05 L105.12,102.37 L104.76,101.54 L104.50,100.67 L104.24,99.84 L103.89,99.11 L103.52,98.44 L103.25,97.85 L103.06,97.33 L102.81,96.72 L102.42,95.93 L102.02,95.26 L101.70,94.72 L101.33,94.03 L100.94,93.27 L100.63,92.73 L100.33,92.19 L99.94,91.48 L99.43,90.82 L98.90,90.33 L98.47,89.87 L98.09,89.32 L97.59,88.71 L97.00,88.14 L96.52,87.68 L96.15,87.26 L95.68,86.78 L95.11,86.17 L94.66,85.50 L94.31,84.79 L93.93,84.12 L93.60,83.63 L93.37,83.26 L93.14,82.64 L92.78,81.48 L92.45,80.48 L92.19,79.96 L91.82,79.44 L91.30,78.73 L90.86,78.12 L90.52,77.65 L90.13,77.10 L89.75,76.53 L89.43,76.03 L89.06,75.33 L88.61,74.47 L88.34,73.90 L88.17,73.45 L87.87,72.53 L87.49,71.39 L87.30,70.81 L87.19,70.45 L86.99,69.68 L86.63,68.49 L86.33,67.78 L86.14,67.49 L85.84,67.10 L85.27,66.26 L84.76,65.47 L84.58,65.15 L84.53,65.04 L84.52,64.99 L84.49,64.85 L84.17,63.33 L83.36,59.45 L83.20,58.68 L83.17,58.61 L83.09,58.48 L82.86,58.05 L82.42,57.08 L82.12,56.17 L82.04,55.61 L82.01,55.16 L81.79,54.55 L81.15,53.56 L80.57,52.70 L80.33,52.28 L80.12,51.94 L79.65,51.40 L79.02,50.79 L78.55,50.41 L78.08,49.99 L77.46,49.49 L76.85,49.04 L76.30,48.62 L75.61,48.10 L74.90,47.58 L74.30,47.14 L73.63,46.75 L72.88,46.46 L72.15,46.23 L71.39,46.05 L70.59,45.83 L69.82,45.59 L69.08,45.37 L68.36,45.18 L67.61,44.89 L66.88,44.42 L66.28,43.97 L65.86,43.59 L65.58,43.19 L65.41,42.77 L65.33,42.44 L65.22,42.06 L64.50,40.02 L63.57,37.40 L63.42,37.03 L63.40,37.00 L63.40,37.00 L63.35,36.95Z" fill="#808080"/><path d="M64.50,35.80 L64.55,35.85 L64.55,35.85 L64.57,35.88 L64.72,36.25 L65.65,38.87 L66.37,40.91 L66.48,41.29 L66.56,41.62 L66.73,42.04 L67.01,42.44 L67.43,42.82 L68.03,43.27 L68.76,43.74 L69.51,44.03 L70.23,44.22 L70.97,44.44 L71.74,44.68 L72.54,44.90 L73.30,45.08 L74.03,45.31 L74.78,45.60 L75.45,45.99 L76.05,46.43 L76.76,46.95 L77.45,47.47 L78.00,47.89 L78.61,48.34 L79.23,48.84 L79.70,49.26 L80.17,49.64 L80.80,50.25 L81.27,50.79 L81.48,51.13 L81.72,51.55 L82.30,52.41 L82.94,53.40 L83.16,54.01 L83.19,54.46 L83.27,55.02 L83.57,55.93 L84.01,56.90 L84.24,57.33 L84.32,57.46 L84.35,57.53 L84.51,58.30 L85.32,62.18 L85.64,63.70 L85.67,63.84 L85.68,63.89 L85.73,64.00 L85.91,64.32 L86.42,65.11 L86.99,65.95 L87.29,66.34 L87.48,66.63 L87.78,67.34 L88.14,68.53 L88.34,69.30 L88.45,69.66 L88.64,70.24 L89.02,71.38 L89.32,72.30 L89.49,72.75 L89.76,73.32 L90.21,74.18 L90.58,74.88 L90.90,75.38 L91.28,75.95 L91.67,76.50 L92.01,76.97 L92.45,77.58 L92.97,78.29 L93.34,78.81 L93.60,79.33 L93.93,80.33 L94.29,81.49 L94.52,82.11 L94.75,82.48 L95.08,82.97 L95.46,83.64 L95.81,84.35 L96.26,85.02 L96.83,85.63 L97.30,86.11 L97.67,86.53 L98.15,86.99 L98.74,87.56 L99.24,88.17 L99.62,88.72 L100.05,89.18 L100.58,89.67 L101.09,90.33 L101.48,91.04 L101.78,91.58 L102.09,92.12 L102.48,92.88 L102.85,93.57 L103.17,94.11 L103.57,94.78 L103.96,95.57 L104.21,96.18 L104.40,96.70 L104.67,97.29 L105.04,97.96 L105.39,98.69 L105.65,99.52 L105.91,100.39 L106.27,101.22 L106.64,101.90 L106.88,102.40 L107.13,102.85 L107.63,103.50 L108.30,104.30 L108.74,104.86 L109.05,105.28 L109.47,105.81 L109.95,106.44 L110.30,106.98 L110.67,107.44 L111.27,107.90 L111.91,108.39 L112.39,108.88 L112.86,109.34 L113.53,109.76 L114.24,110.18 L114.77,110.65 L115.33,111.16 L116.06,111.64 L116.69,111.99 L117.04,112.25 L117.26,112.56 L117.66,113.13 L118.29,113.99 L118.78,114.69 L119.13,115.18 L119.60,115.69 L120.18,116.25 L120.67,116.72 L121.11,117.14 L121.64,117.60 L122.15,118.10 L122.56,118.61 L123.04,119.21 L123.61,119.90 L124.08,120.48 L124.49,120.92 L125.00,121.32 L125.54,121.72 L126.08,122.14 L126.70,122.59 L127.32,123.02 L127.85,123.43 L128.43,123.87 L129.04,124.31 L129.57,124.70 L130.14,125.13 L130.77,125.57 L131.30,125.90 L131.87,126.19 L132.65,126.54 L133.39,126.90 L133.97,127.24 L134.62,127.69 L135.33,128.20 L135.83,128.59 L136.25,128.96 L136.82,129.45 L137.40,129.99 L137.87,130.44 L138.41,130.91 L139.05,131.42 L139.65,131.84 L140.25,132.19 L140.92,132.50 L141.61,132.79 L142.31,133.04 L143.03,133.29 L143.75,133.54 L144.46,133.80 L145.16,134.07 L145.84,134.36 L146.46,134.65 L147.09,135.01 L147.77,135.47 L148.35,135.89 L148.81,136.26 L149.39,136.79 L150.01,137.40 L150.42,137.86 L150.84,138.30 L151.45,138.90 L152.04,139.49 L152.47,139.88 L152.94,140.14 L153.60,140.37 L155.00,140.37 L155.00,141.10 L157.00,141.10 L157.00,142.50 L160.80,142.50 L160.80,143.40 L164.60,143.40 L164.60,144.50 L167.00,144.50 L167.00,146.50 L169.40,146.50 L169.40,148.40 L176.20,148.40 L176.20,149.90 L182.90,149.90 L182.90,151.10 L187.70,151.10 L187.70,152.20 L197.30,152.20 L197.30,153.40 L203.00,153.40 L203.00,154.60 L212.60,154.60 L212.60,155.90 L221.30,155.90 L221.30,157.50 L232.80,157.50 L232.80,159.00 L242.40,159.00 L242.40,160.00 L249.20,160.00 L249.20,160.50 L258.70,160.50 L258.70,161.30 L266.30,161.30 L266.30,162.00 L270.20,162.00 L270.20,162.80 L277.90,162.80 L277.90,163.50 L294.20,163.50 L294.20,164.55 L306.70,164.55 L306.70,165.35 L376.30,165.35 L376.30,166.30 L388.80,166.30 L388.80,167.00 L395.60,167.00 L395.60,167.80 L406.20,167.80 L406.20,168.35 L439.10,168.35 L439.10,170.35 L502.30,170.35" fill="none" stroke="#808080" stroke-width="2.8" stroke-linejoin="round" stroke-linecap="butt"/></g>
<path d="M64.5,29 V270.5" fill="none" stroke="#000" stroke-width="2.3"/>
<path d="M63.35,269.55 H517" fill="none" stroke="#000" stroke-width="2.1"/>
<path d="M58,35.8 H64.5" stroke="#000" stroke-width="1.6"/>
<text x="52.3" y="40.9" text-anchor="end" class="t">1</text>
<path d="M58,82.7 H64.5" stroke="#000" stroke-width="1.6"/>
<text x="52.3" y="87.8" text-anchor="end" class="t">0.8</text>
<path d="M58,129.4 H64.5" stroke="#000" stroke-width="1.6"/>
<text x="52.3" y="134.6" text-anchor="end" class="t">0.6</text>
<path d="M58,176.2 H64.5" stroke="#000" stroke-width="1.6"/>
<text x="52.3" y="180.9" text-anchor="end" class="t">0.4</text>
<path d="M58,222.9 H64.5" stroke="#000" stroke-width="1.6"/>
<text x="52.3" y="227.3" text-anchor="end" class="t">0.2</text>
<text x="64.5" y="295.6" text-anchor="middle" class="t">0</text>
<path d="M153.7,269.5 V276.5" stroke="#000" stroke-width="1.6"/>
<text x="153.7" y="295.6" text-anchor="middle" class="t">2</text>
<path d="M242.9,269.5 V276.5" stroke="#000" stroke-width="1.6"/>
<text x="242.9" y="295.6" text-anchor="middle" class="t">4</text>
<path d="M332.1,269.5 V276.5" stroke="#000" stroke-width="1.6"/>
<text x="332.1" y="295.6" text-anchor="middle" class="t">6</text>
<path d="M421.3,269.5 V276.5" stroke="#000" stroke-width="1.6"/>
<text x="421.3" y="295.6" text-anchor="middle" class="t">8</text>
<path d="M510.5,269.5 V276.5" stroke="#000" stroke-width="1.6"/>
<text x="510.5" y="292.6" text-anchor="middle" class="t">10</text>
<path d="M154.3,34.4 H187" stroke="#0070be" stroke-width="3"/>
<path d="M154.3,55.5 H187" stroke="#f0bc00" stroke-width="3"/>
<path d="M154.3,78.5 H187" stroke="#808080" stroke-width="3"/>
<text x="192" y="37.9" class="l" textLength="57">No LVSD</text>
<text x="192.6" y="59.5" class="l" textLength="221.5">Infection-associated incident LVSD</text>
<text x="195" y="82.1" class="l" textLength="247.5">Not infection-associated incident LVSD</text>
<text x="427.5" y="11" class="h" textLength="87.3">5-year OS (%)</text>
<text x="457.8" y="38.1" class="n">66.0</text>
<text x="457.8" y="59.5" class="n">56.7</text>
<text x="457.8" y="81.8" class="n">45.1</text>
<text x="142.6" y="324.8" class="a" textLength="274" lengthAdjust="spacingAndGlyphs">Time Since Study Entry (years)</text>
<text transform="translate(19.3,221.6) rotate(-90)" x="0" y="0" class="ay" textLength="137" lengthAdjust="spacingAndGlyphs">OS (probability)</text>
</svg>
</body></html>
